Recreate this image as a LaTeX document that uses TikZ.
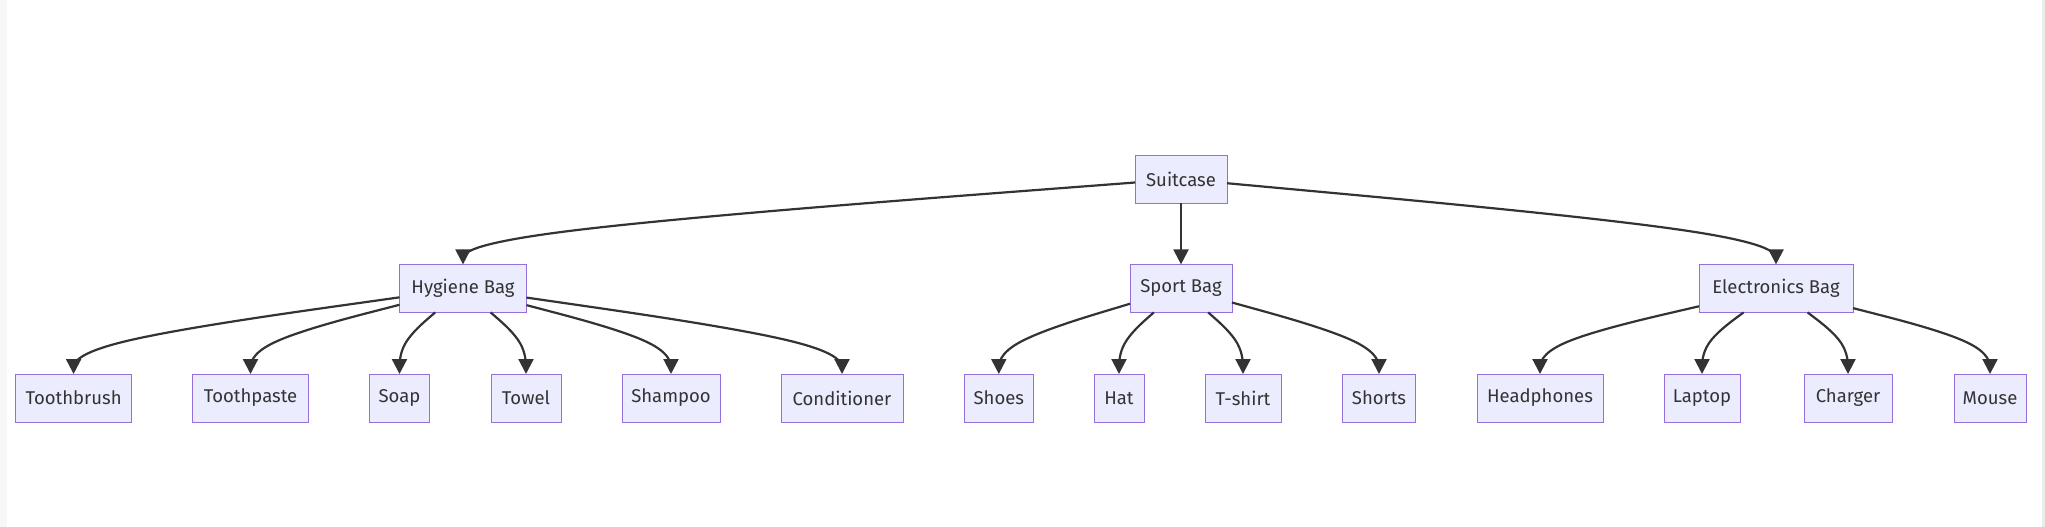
\documentclass[tikz,border=0pt]{standalone}
\usepackage{fontspec}
\setmainfont{Fira Sans}
\usetikzlibrary{arrows.meta,calc}
\definecolor{nodefill}{HTML}{ECECFF}
\definecolor{nodeline}{HTML}{9370DB}
\definecolor{ink}{HTML}{333333}
\tikzset{
  box/.style={draw=nodeline, fill=nodefill, line width=1pt, minimum height=48pt,
    inner sep=0pt, outer sep=0pt, text=ink, font=\fontsize{18.5}{22}\selectfont},
  edge/.style={draw=ink, line width=2.2pt, -{Triangle[length=15pt,width=15pt]}},
}
% d3 curveBasis through: start on parent border, mid point above child, child top
\newcommand\fan[2]{%
\draw[edge] let
  \p0=(#1.center), \p9=(#1.north east), \p7=(#1.south), \p2=(#2.north),
  \p1=(\x2,{0.5*(\y2+\y7)}),
  \n1={min((\x9-\x0)/max(abs(\x1-\x0),0.01),(\y9-\y0)/max(abs(\y1-\y0),0.01))},
  \p3=({\x0+\n1*(\x1-\x0)},{\y0+\n1*(\y1-\y0)})
 in (\p3) -- ({(5*\x3+\x1)/6},{(5*\y3+\y1)/6})
  .. controls ({(2*\x3+\x1)/3},{(2*\y3+\y1)/3}) and ({(\x3+2*\x1)/3},{(\y3+2*\y1)/3})
  .. ({(\x3+4*\x1+\x2)/6},{(\y3+4*\y1+\y2)/6})
  .. controls ({(2*\x1+\x2)/3},{(2*\y1+\y2)/3}) and ({(\x1+2*\x2)/3},{(\y1+2*\y2)/3})
  .. ({(\x1+5*\x2)/6},{(\y1+5*\y2)/6}) -- (\p2);
}
\begin{document}
\begin{tikzpicture}[x=1pt,y=1pt]
\fill[white] (0,0) rectangle (2045,-527);
\fill[gray!6] (0,0) rectangle (7,-527);
\fill[gray!15] (2042,0) rectangle (2045,-527);
\useasboundingbox (0,0) rectangle (2045,-527);

\node[box, minimum width=92pt]  (suit) at (1181,-179) {Suitcase};

\node[box, minimum width=127pt] (hyg)  at (463,-288.4)  {Hygiene Bag};
\node[box, minimum width=102pt] (spo)  at (1181,-288.4) {Sport Bag};
\node[box, minimum width=154pt] (ele)  at (1776,-288.4) {Electronics Bag};

\node[box, minimum width=116pt] (brush) at (73.6,-398)  {Toothbrush};
\node[box, minimum width=116pt] (paste) at (250.5,-398) {Toothpaste};
\node[box, minimum width=60pt]  (soap)  at (399.5,-398) {Soap};
\node[box, minimum width=70pt]  (towel) at (526,-398)   {Towel};
\node[box, minimum width=98pt]  (shamp) at (671,-398)   {Shampoo};
\node[box, minimum width=122pt] (cond)  at (842,-398)   {Conditioner};

\node[box, minimum width=69pt]  (shoes) at (998.8,-398) {Shoes};
\node[box, minimum width=50pt]  (hat)   at (1119,-398)  {Hat};
\node[box, minimum width=76pt]  (tee)   at (1243,-398)  {T-shirt};
\node[box, minimum width=73pt]  (shorts) at (1379,-398) {Shorts};

\node[box, minimum width=126pt] (phones) at (1540,-398) {Headphones};
\node[box, minimum width=76pt]  (laptop) at (1702,-398) {Laptop};
\node[box, minimum width=88pt]  (charger) at (1848,-398) {Charger};
\node[box, minimum width=72pt]  (mouse) at (1990,-398)  {Mouse};

\fan{suit}{hyg}
\fan{suit}{spo}
\fan{suit}{ele}

\fan{hyg}{brush}
\fan{hyg}{paste}
\fan{hyg}{soap}
\fan{hyg}{towel}
\fan{hyg}{shamp}
\fan{hyg}{cond}

\fan{spo}{shoes}
\fan{spo}{hat}
\fan{spo}{tee}
\fan{spo}{shorts}

\fan{ele}{phones}
\fan{ele}{laptop}
\fan{ele}{charger}
\fan{ele}{mouse}
\end{tikzpicture}
\end{document}
